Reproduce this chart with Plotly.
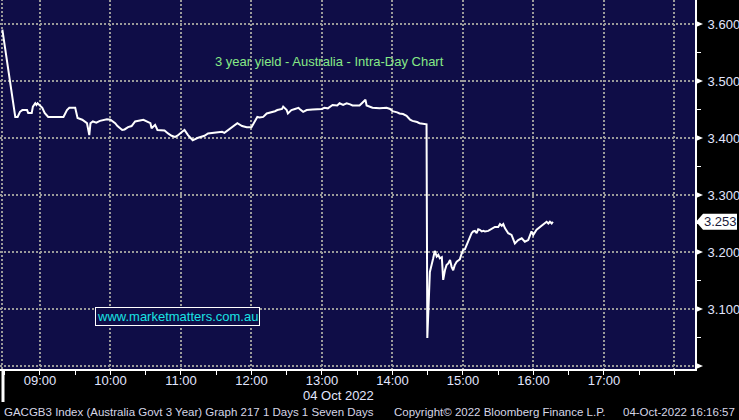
import plotly.graph_objects as go

DATE = "2022-10-04"

times = [
    "08:28:00", "08:39:00", "08:41:00", "08:43:00", "08:45:00", "08:49:00", "08:50:00", "08:53:00",
    "08:54:00", "08:56:00", "08:57:00", "08:58:00", "09:02:00", "09:04:00", "09:07:00", "09:20:00",
    "09:23:00", "09:25:00", "09:30:00", "09:32:00", "09:36:00", "09:38:00", "09:40:00", "09:42:00",
    "09:43:00", "09:45:00", "09:48:00", "09:51:00", "09:57:00", "10:00:00", "10:04:00", "10:06:00",
    "10:10:00", "10:12:00", "10:15:00", "10:18:00", "10:21:00", "10:28:00", "10:31:00", "10:34:00",
    "10:35:00", "10:38:00", "10:40:00", "10:44:00", "10:46:00", "10:49:00", "10:52:00", "10:55:00",
    "10:57:00", "11:01:00", "11:03:00", "11:06:00", "11:10:00", "11:14:00", "11:18:00", "11:20:00",
    "11:23:00", "11:27:00", "11:31:00", "11:35:00", "11:37:00", "11:40:00", "11:44:00", "11:48:00",
    "11:52:00", "11:56:00", "12:00:00", "12:03:00", "12:05:00", "12:07:00", "12:10:00", "12:13:00",
    "12:18:00", "12:20:00", "12:22:00", "12:26:00", "12:27:00", "12:30:00", "12:31:00", "12:34:00",
    "12:37:00", "12:40:00", "12:41:00", "12:44:00", "12:47:00", "12:50:00", "12:52:00", "13:00:00",
    "13:02:00", "13:05:00", "13:07:00", "13:09:00", "13:13:00", "13:15:00", "13:18:00", "13:21:00",
    "13:24:00", "13:26:00", "13:32:00", "13:35:00", "13:37:00", "13:38:00", "13:41:00", "13:43:00",
    "13:49:00", "13:55:00", "13:58:00", "14:00:00", "14:04:00", "14:06:00", "14:09:00", "14:12:00",
    "14:15:00", "14:17:00", "14:21:00", "14:23:00", "14:29:00", "14:29:40", "14:31:50", "14:32:40",
    "14:33:50", "14:34:40", "14:36:00", "14:37:40", "14:39:00", "14:40:20", "14:42:00", "14:43:10",
    "14:44:40", "14:46:00", "14:47:30", "14:49:00", "14:50:20", "14:51:40", "14:53:00", "14:54:40",
    "14:56:00", "14:57:20", "14:59:00", "15:00:20", "15:01:40", "15:03:00", "15:04:30", "15:06:00",
    "15:07:20", "15:08:40", "15:10:10", "15:11:40", "15:13:00", "15:14:20", "15:16:00", "15:17:20",
    "15:18:40", "15:21:30", "15:24:20", "15:27:10", "15:30:00", "15:31:30", "15:33:00", "15:34:20",
    "15:35:40", "15:38:30", "15:41:20", "15:44:10", "15:47:00", "15:50:00", "15:52:40", "15:55:30",
    "15:58:20", "15:59:50", "16:02:40", "16:05:30", "16:08:20", "16:11:10", "16:12:40", "16:14:00",
    "16:15:30", "16:16:30",
]

yields = [
    3.590, 3.437, 3.437, 3.446, 3.449, 3.449, 3.444, 3.444,
    3.455, 3.461, 3.458, 3.461, 3.453, 3.444, 3.437, 3.437,
    3.449, 3.453, 3.453, 3.435, 3.432, 3.429, 3.426, 3.405,
    3.426, 3.429, 3.427, 3.430, 3.433, 3.432, 3.426, 3.421,
    3.414, 3.415, 3.419, 3.421, 3.429, 3.432, 3.429, 3.426,
    3.417, 3.423, 3.414, 3.414, 3.413, 3.408, 3.404, 3.402,
    3.404, 3.411, 3.414, 3.405, 3.396, 3.400, 3.402, 3.404,
    3.408, 3.409, 3.411, 3.411, 3.409, 3.414, 3.419, 3.426,
    3.421, 3.419, 3.419, 3.429, 3.437, 3.436, 3.437, 3.443,
    3.445, 3.447, 3.449, 3.451, 3.455, 3.449, 3.443, 3.449,
    3.451, 3.453, 3.451, 3.446, 3.449, 3.449, 3.450, 3.451,
    3.453, 3.452, 3.455, 3.458, 3.457, 3.461, 3.458, 3.461,
    3.459, 3.457, 3.457, 3.464, 3.467, 3.457, 3.455, 3.453,
    3.452, 3.453, 3.451, 3.447, 3.445, 3.443, 3.442, 3.439,
    3.432, 3.430, 3.428, 3.426, 3.424, 3.049, 3.165, 3.174,
    3.183, 3.189, 3.202, 3.192, 3.195, 3.189, 3.191, 3.151,
    3.168, 3.177, 3.180, 3.186, 3.174, 3.168, 3.177, 3.183,
    3.185, 3.187, 3.198, 3.204, 3.205, 3.212, 3.221, 3.227,
    3.233, 3.236, 3.237, 3.233, 3.240, 3.239, 3.236, 3.237,
    3.236, 3.237, 3.240, 3.244, 3.244, 3.249, 3.246, 3.249,
    3.242, 3.233, 3.230, 3.215, 3.221, 3.224, 3.218, 3.221,
    3.236, 3.230, 3.239, 3.244, 3.249, 3.253, 3.250, 3.253,
    3.250, 3.253,
]

y_ticks = [3.0, 3.1, 3.2, 3.3, 3.4, 3.5, 3.6]
y_tick_labels = ["", "3.100", "3.200", "3.300", "3.400", "3.500", "3.600"]
x_hours = ["09:00", "10:00", "11:00", "12:00", "13:00", "14:00", "15:00", "16:00", "17:00", "18:00"]
x_hour_labels = ["09:00", "10:00", "11:00", "12:00", "13:00", "14:00", "15:00", "16:00", "17:00", ""]
x_half_hours = ["08:30", "09:30", "10:30", "11:30", "12:30", "13:30", "14:30", "15:30", "16:30", "17:30"]
last_value = 3.253
last_label = "3.253"
chart_title = "3 year yield - Australia - Intra-Day Chart"
watermark = "www.marketmatters.com.au"
date_label = "04 Oct 2022"
footer_left = "GACGB3 Index (Australia Govt 3 Year) Graph 217 1 Days 1 Seven Days"
footer_mid = "Copyright\u00a9 2022 Bloomberg Finance L.P."
footer_right = "04-Oct-2022 16:16:57"

X_RANGE = [f"{DATE} 08:26:00", f"{DATE} 18:17:28"]
Y_RANGE = [2.99474, 3.64211]

W, H = 739, 420
ML, MR, MT, MB = 0, 44, 0, 51
PW, PH = W - ML - MR, H - MT - MB

NAVY = "#0f0d47"
GRID = "#9a9a9a"
TICKFONT = "#e2e6ff"
FOOTCOL = "#d6d6e6"
FONT = "Liberation Sans, Arial, sans-serif"


def py(v):
    return (v - Y_RANGE[0]) / (Y_RANGE[1] - Y_RANGE[0])


fig = go.Figure()
fig.add_trace(go.Scatter(
    x=[f"{DATE} {t}" for t in times], y=yields, mode="lines",
    line=dict(color="white", width=2), hoverinfo="skip", showlegend=False,
))

shapes = []
# tick arrows on the value axis
for v in y_ticks:
    yc = py(v)
    dy = 3.5 / PH
    shapes.append(dict(
        type="path", xref="paper", yref="paper",
        path=f"M 1,{yc - dy} L {1 + 8 / PW},{yc} L 1,{yc + dy} Z",
        fillcolor="white", line=dict(width=0), layer="above",
    ))
# last value flag
yc = py(last_value)
hh = 8 / PH
shapes.append(dict(
    type="path", xref="paper", yref="paper",
    path=(f"M {1 + 1 / PW},{yc} L {1 + 8 / PW},{yc + hh} L {1 + 42 / PW},{yc + hh} "
          f"L {1 + 42 / PW},{yc - hh} L {1 + 8 / PW},{yc - hh} Z"),
    fillcolor="white", line=dict(width=0), layer="above",
))
# left day boundary grid and marker
shapes.append(dict(type="line", xref="paper", yref="paper", x0=2 / PW, x1=2 / PW, y0=0, y1=1,
                   line=dict(color=GRID, width=2, dash="2px,2px"), layer="below"))
shapes.append(dict(type="line", xref="paper", yref="paper", x0=3 / PW, x1=3 / PW, y0=0, y1=-33 / PH,
                   line=dict(color="white", width=3), layer="above"))

annotations = [
    dict(text=chart_title, xref="paper", yref="paper", x=329 / PW, y=1 - 61 / PH,
         showarrow=False, font=dict(color="#86e986", size=13, family=FONT), xanchor="center", yanchor="middle"),
    dict(text=watermark, xref="paper", yref="paper", x=178 / PW, y=1 - 316 / PH,
         showarrow=False, font=dict(color="#19e3e3", size=13, family=FONT),
         xanchor="center", yanchor="middle", bgcolor=NAVY, bordercolor="white", borderwidth=1, borderpad=1),
    dict(text=last_label, xref="paper", yref="paper", x=1 + 25 / PW, y=yc,
         showarrow=False, font=dict(color="#1a1a3a", size=13, family=FONT), xanchor="center", yanchor="middle"),
    dict(text=date_label, xref="paper", yref="paper", x=338 / PW, y=-(395 - PH) / PH,
         showarrow=False, font=dict(color=TICKFONT, size=13, family=FONT), xanchor="center", yanchor="middle"),
    dict(text=footer_left, xref="paper", yref="paper", x=2 / PW, y=-(412 - PH) / PH,
         showarrow=False, font=dict(color=FOOTCOL, size=11.5, family=FONT), xanchor="left", yanchor="middle"),
    dict(text=footer_mid, xref="paper", yref="paper", x=392 / PW, y=-(412 - PH) / PH,
         showarrow=False, font=dict(color=FOOTCOL, size=11.5, family=FONT), xanchor="left", yanchor="middle"),
    dict(text=footer_right, xref="paper", yref="paper", x=737 / PW, y=-(412 - PH) / PH,
         showarrow=False, font=dict(color=FOOTCOL, size=11.5, family=FONT), xanchor="right", yanchor="middle"),
]

fig.update_layout(
    width=W, height=H, margin=dict(l=ML, r=MR, t=MT, b=MB, autoexpand=False),
    paper_bgcolor="black", plot_bgcolor=NAVY,
    font=dict(family=FONT, color=TICKFONT, size=13),
    shapes=shapes, annotations=annotations, showlegend=False,
    xaxis=dict(
        type="date", range=X_RANGE, automargin=False,
        tickvals=[f"{DATE} {h}" for h in x_hours], ticktext=x_hour_labels,
        showgrid=True, gridcolor=GRID, gridwidth=2, griddash="2px,2px",
        showline=True, linecolor="white", linewidth=2,
        ticks="outside", ticklen=4, tickcolor="white", tickwidth=1,
        ticklabelstandoff=-6,
        minor=dict(tickvals=[f"{DATE} {h}" for h in x_half_hours], ticks="outside", ticklen=4,
                   tickcolor="white", tickwidth=1, showgrid=False),
        tickfont=dict(color=TICKFONT, size=13, family=FONT),
        zeroline=False, fixedrange=True,
    ),
    yaxis=dict(
        side="right", range=Y_RANGE, automargin=False,
        tickvals=y_ticks, ticktext=y_tick_labels,
        showgrid=True, gridcolor=GRID, gridwidth=2, griddash="2px,2px",
        showline=True, linecolor="white", linewidth=2,
        ticks="", ticklabelstandoff=8,
        minor=dict(dtick=0.05, tick0=3.05, ticks="outside", ticklen=4, tickcolor="white",
                   tickwidth=1, showgrid=False),
        tickfont=dict(color=TICKFONT, size=13, family=FONT),
        zeroline=False, fixedrange=True,
    ),
)

fig.write_html(
    "out.html",
    config={"displayModeBar": False, "staticPlot": True},
    post_script="document.body.style.margin='0';document.body.style.background='black';",
)
